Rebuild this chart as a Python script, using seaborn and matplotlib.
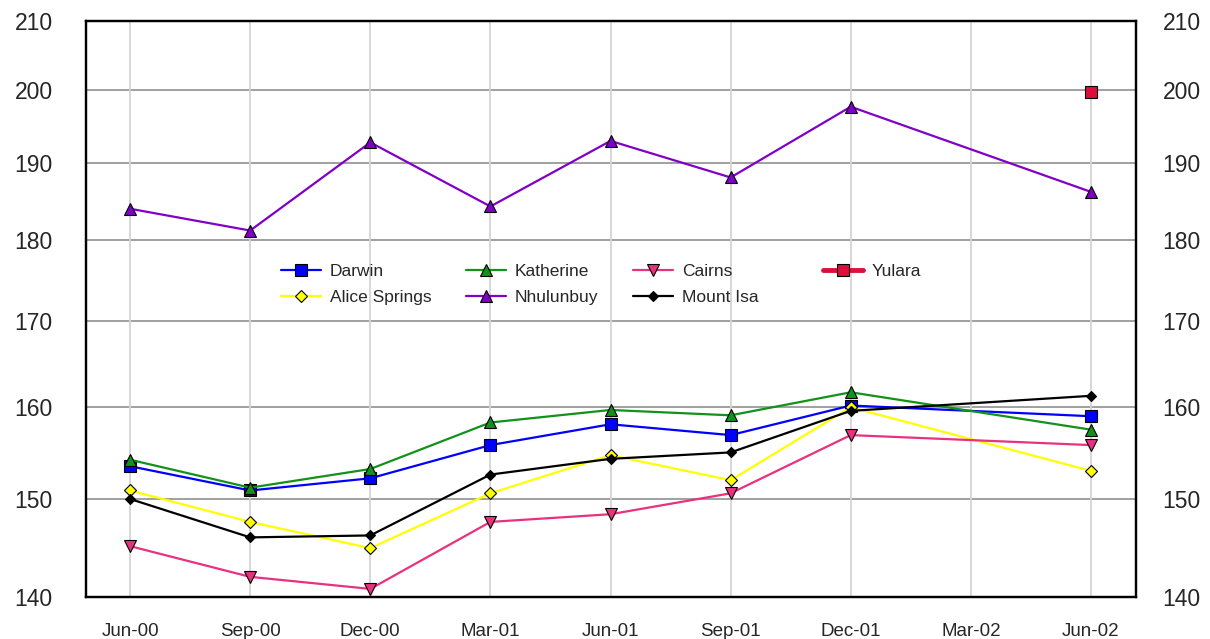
import numpy as np
import pandas as pd
import matplotlib as mpl
mpl.use('Agg')
import matplotlib.pyplot as plt
from matplotlib.ticker import FixedLocator, FixedFormatter, NullLocator
import seaborn as sns

# quarters (Mar-02 has no data for any series)
quarters = ['Jun-00', 'Sep-00', 'Dec-00', 'Mar-01', 'Jun-01', 'Sep-01', 'Dec-01', 'Mar-02', 'Jun-02']
nan = np.nan

darwin = [153.5, 150.9, 152.2, 155.8, 158.1, 156.9, 160.2, nan, 159.0]
katherine = [154.2, 151.2, 153.2, 158.3, 159.7, 159.1, 161.7, nan, 157.5]
cairns = [145.1, 142.0, 140.8, 147.6, 148.4, 150.6, 156.9, nan, 155.8]
yulara = [nan, nan, nan, nan, nan, nan, nan, nan, 199.7]
alice_springs = [150.9, 147.6, 144.9, 150.6, 154.7, 152.0, 160.0, nan, 153.0]
nhulunbuy = [184.0, 181.2, 192.8, 184.3, 193.0, 188.1, 197.7, nan, 186.2]
mount_isa = [150.0, 146.0, 146.2, 152.6, 154.3, 155.0, 159.6, nan, 161.3]

yticks = [140, 150, 160, 170, 180, 190, 200, 210]

# legend order fills column-wise: Darwin/Alice, Katherine/Nhulunbuy, Cairns/Mount Isa
series = [
    ('Darwin', darwin, '#0000ff', 's', 8, 1.6),
    ('Alice Springs', alice_springs, '#ffff00', 'D', 6, 1.6),
    ('Katherine', katherine, '#12921a', '^', 8, 1.6),
    ('Nhulunbuy', nhulunbuy, '#8000c8', '^', 8, 1.6),
    ('Cairns', cairns, '#e8317f', 'v', 8, 1.6),
    ('Mount Isa', mount_isa, '#000000', 'D', 5, 1.6),
    ('Yulara', yulara, '#dc0f3c', 's', 8, 3.5),
]

sns.set_style('white')
plt.rcParams['font.family'] = ['Liberation Sans', 'DejaVu Sans']

fig = plt.figure(figsize=(12.1, 6.39), dpi=100)
ax = fig.add_axes([86 / 1210, 42 / 639, 1050 / 1210, 576 / 639])

for name, vals, col, mk, ms, lw in series:
    df = pd.DataFrame({'x': np.arange(len(quarters)), 'y': vals}).dropna()
    sns.lineplot(data=df, x='x', y='y', ax=ax, color=col, marker=mk, markersize=ms,
                 markeredgecolor='black', markeredgewidth=0.8, linewidth=lw, label=name)

ax.set_yscale('log')
ax.set_ylim(140, 210)
ax.set_xlim(-0.367, 8.375)
ax.yaxis.set_major_locator(FixedLocator(yticks))
ax.yaxis.set_major_formatter(FixedFormatter([str(t) for t in yticks]))
ax.yaxis.set_minor_locator(NullLocator())
ax.set_xticks(range(len(quarters)))
ax.set_xticklabels(quarters)
ax.set_xlabel('')
ax.set_ylabel('')

ax.grid(False)
for t in yticks:
    ax.axhline(t, color='#a0a0a0', linewidth=1.4, zorder=0)
for i in range(len(quarters)):
    ax.axvline(i, color='#d4d4d4', linewidth=1.3, zorder=0)

ax.tick_params(axis='y', length=0, pad=24, labelsize=16.5)
ax.tick_params(axis='x', length=0, pad=19, labelsize=13.5)

ax2 = ax.twinx()
ax2.set_yscale('log')
ax2.set_ylim(140, 210)
ax2.yaxis.set_major_locator(FixedLocator(yticks))
ax2.yaxis.set_major_formatter(FixedFormatter([str(t) for t in yticks]))
ax2.yaxis.set_minor_locator(NullLocator())
ax2.tick_params(axis='y', length=0, pad=19, labelsize=16.5)
ax2.grid(False)

for a in (ax, ax2):
    for s in a.spines.values():
        s.set_color('black')
        s.set_linewidth(1.6)

handles, labels = ax.get_legend_handles_labels()
leg_kw = dict(frameon=False, fontsize=12.5, handlelength=2.3, handletextpad=0.5,
              labelspacing=0.6, borderaxespad=0, borderpad=0)
leg1 = ax.legend(handles[:6], labels[:6], loc='upper left', bbox_to_anchor=(0.186, 0.578),
                 ncol=3, columnspacing=2.0, **leg_kw)
ax.add_artist(leg1)
ax.legend(handles[6:], labels[6:], loc='upper left', bbox_to_anchor=(0.702, 0.578), **leg_kw)

fig.savefig('out.png', dpi=100)
